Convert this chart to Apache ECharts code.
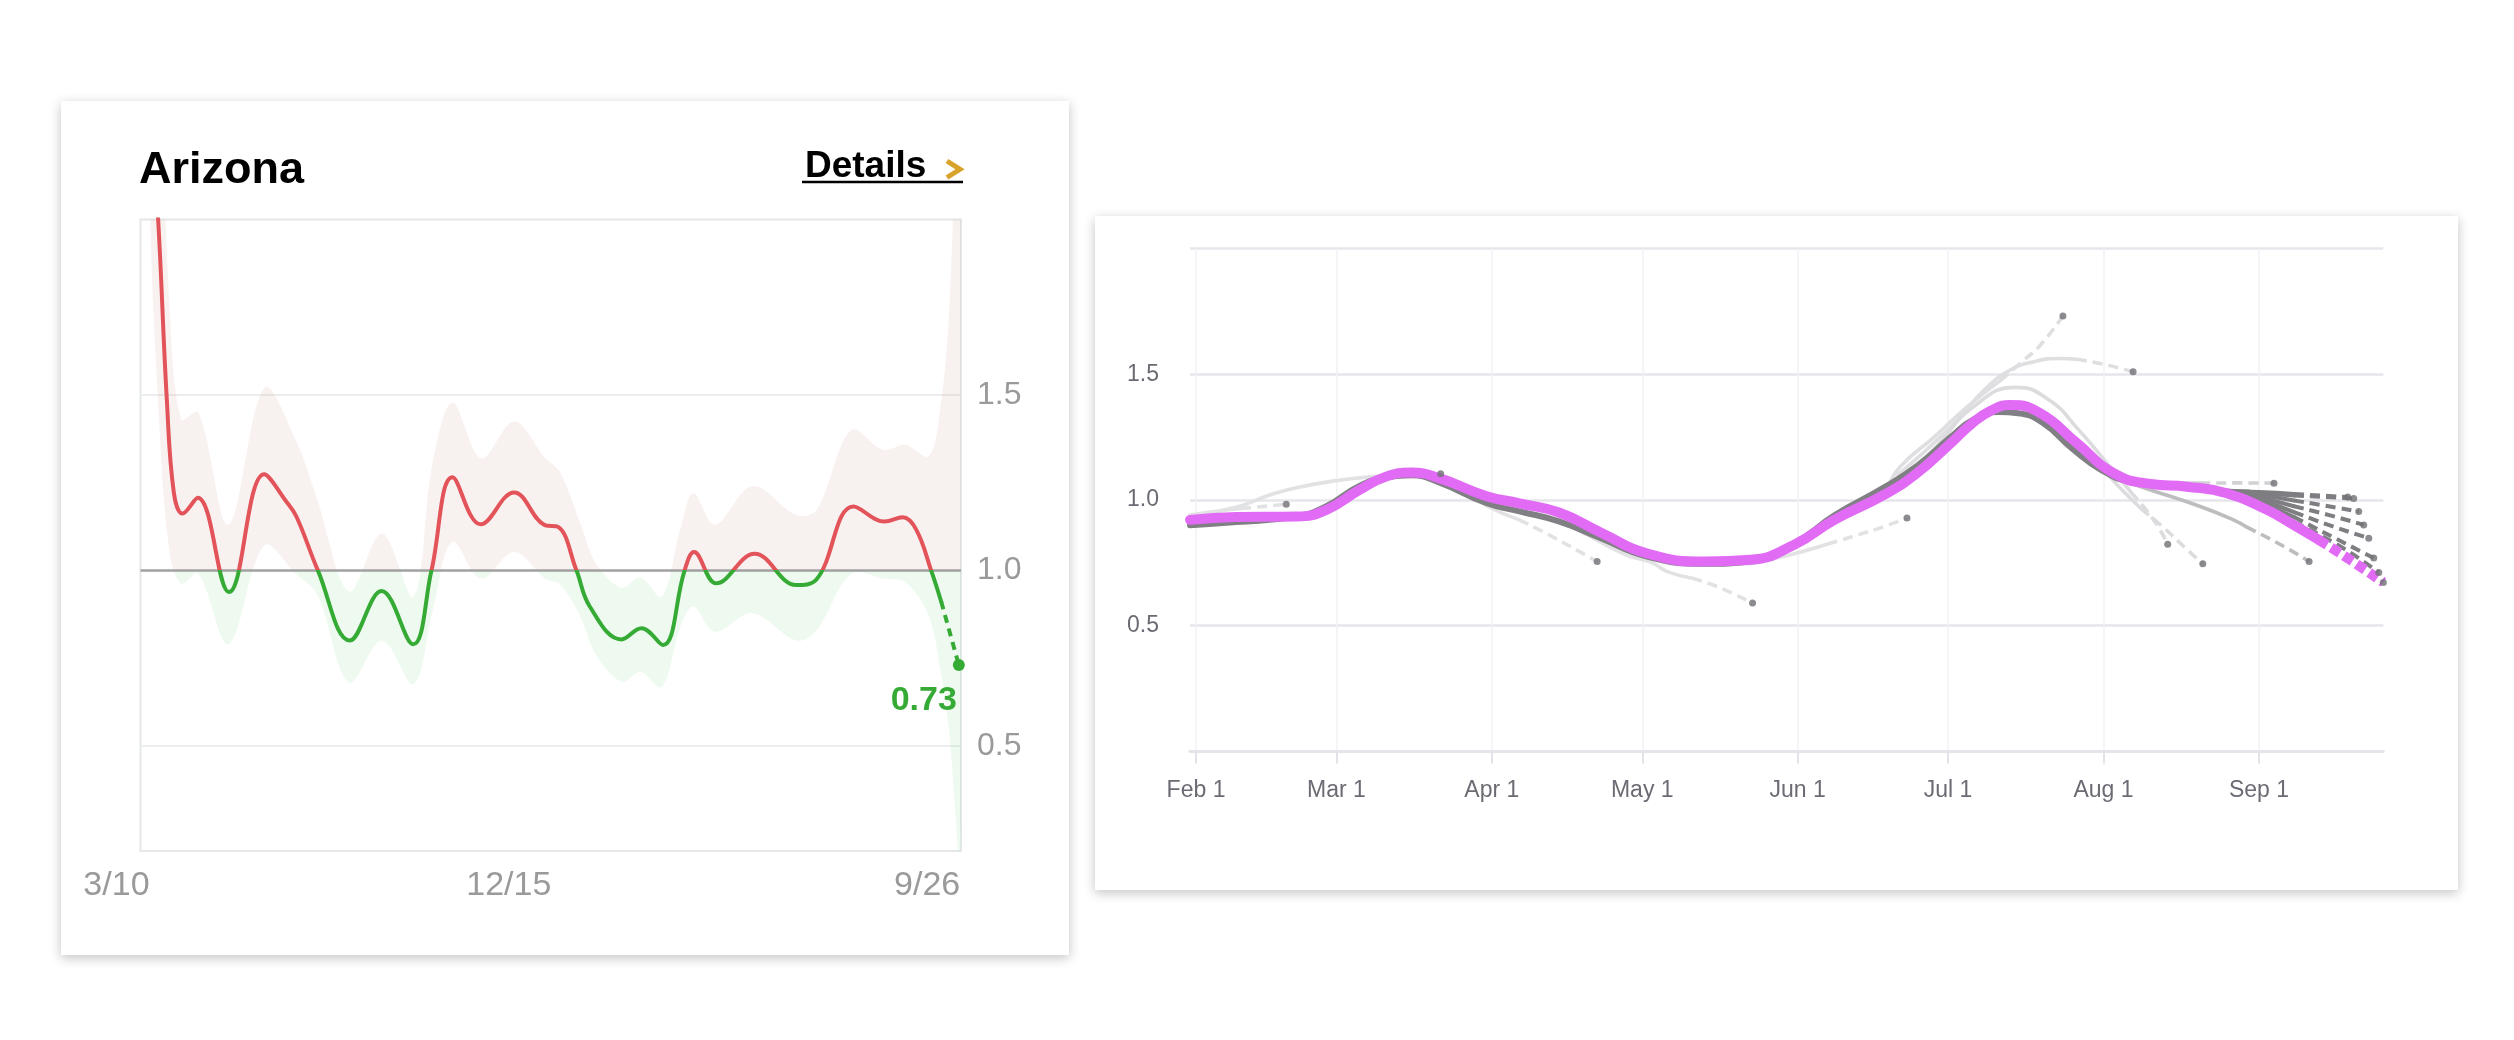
<!DOCTYPE html>
<html>
<head lang="en">
    <meta charset="UTF-8">
    <title>Rt</title>
    <style>
        html, body { margin: 0; padding: 0; background: #fff; }
        .card { position: absolute; background: #fff; box-shadow: 0 3px 11px rgba(0,0,0,0.24); }
        #main { position: absolute; left: 0; top: 0; width: 2514px; height: 1040px; }
    </style>
</head>
<body>
<div class="card" style="left:61px;top:101px;width:1008px;height:854px;"></div>
<div class="card" style="left:1095px;top:216px;width:1363px;height:674px;"></div>
<div id="main"></div>
<script src="https://cdn.jsdelivr.net/npm/echarts@6/dist/echarts.min.js"></script>
<script>
var FONT = '"Liberation Sans", Arial, sans-serif';

// ---- left card: Arizona, days counted from 3/10/2020
var azTickDays = [0, 280, 565];
var azTickLabels = ['3/10', '12/15', '9/26'];
var azLine = [[0, 2.35], [6, 2.0], [12, 1.49], [17, 1.22], [23, 1.162], [33.6, 1.207], [55.4, 0.938],
    [79.9, 1.274], [95.5, 1.195], [102.5, 1.152], [117.3, 1.0], [139.6, 0.80], [161.7, 0.941],
    [183.7, 0.789], [196.5, 1.0], [211.1, 1.265], [230.8, 1.131], [254, 1.222], [275.4, 1.129],
    [284.7, 1.124], [297.5, 1.0], [306.8, 0.897], [328.8, 0.803], [342.8, 0.835], [357.8, 0.787],
    [372.9, 1.0], [379.4, 1.052], [395, 0.963], [421.7, 1.047], [450.7, 0.958], [464.6, 0.973],
    [490.6, 1.182], [512.2, 1.139], [524.9, 1.151], [534.3, 1.116], [544.7, 1.0], [551.7, 0.911]];
var azTail = [[551.7, 0.911], [564, 0.73]];
var bandDays = [0, 7, 14, 22, 34, 55, 80, 102, 117, 139, 162, 184, 197, 211, 231, 254, 276, 286, 300,
    311, 329, 342, 357, 370, 379, 394, 420, 451, 465, 489, 511, 527, 543, 551, 557, 565];
var bandHigh = [3.4, 2.5, 1.75, 1.43, 1.45, 1.13, 1.52, 1.37, 1.2, 0.94, 1.105, 0.924, 1.3, 1.478, 1.319,
    1.424, 1.319, 1.28, 1.136, 1.02, 0.95, 0.98, 0.925, 1.12, 1.22, 1.13, 1.24, 1.157, 1.173, 1.40,
    1.344, 1.358, 1.325, 1.46, 1.72, 2.5];
var bandLow = [2.1, 1.4, 1.05, 0.962, 0.99, 0.79, 1.071, 0.99, 0.93, 0.681, 0.80, 0.676, 0.88, 1.081,
    0.976, 1.052, 0.975, 0.96, 0.87, 0.76, 0.682, 0.711, 0.668, 0.84, 0.897, 0.825, 0.878, 0.80, 0.83,
    0.99, 0.977, 0.965, 0.87, 0.72, 0.55, 0.18];

// ---- right card: days counted from Feb 1 2021
var monthDays = [0, 28, 59, 89, 120, 150, 181, 212];
var monthLabels = ['Feb 1', 'Mar 1', 'Apr 1', 'May 1', 'Jun 1', 'Jul 1', 'Aug 1', 'Sep 1'];
var current = [[-1.2, 0.921], [8, 0.932], [20, 0.934], [26, 0.961], [32.6, 1.04], [37.9, 1.093],
    [42.9, 1.109], [48.5, 1.087], [57.8, 1.016], [64.5, 0.987], [72.4, 0.95], [81, 0.868], [89.7, 0.789],
    [101.7, 0.755], [110.6, 0.762], [119.3, 0.822], [127.3, 0.921], [137.2, 1.02], [143.8, 1.107],
    [150.5, 1.226], [154.5, 1.3], [158.5, 1.355], [162.4, 1.378], [168.4, 1.345], [175.7, 1.226],
    [183.1, 1.106], [190.4, 1.064], [197.6, 1.053], [205.6, 1.027], [213.6, 0.961], [218.9, 0.901],
    [223.9, 0.842], [230.2, 0.762], [236.8, 0.672]];
var currentDashFrom = 223.9;
var bundle = [[-1.2, 0.9], [8, 0.912], [20, 0.935], [26, 0.975], [32.5, 1.055], [38, 1.09], [43, 1.098],
    [48.5, 1.07], [58, 0.987], [64.5, 0.955], [72.5, 0.914], [80.5, 0.85], [90, 0.775], [101.5, 0.746],
    [110.5, 0.755], [119.5, 0.83], [127.5, 0.941], [137.5, 1.053], [144, 1.139], [150.5, 1.25],
    [155, 1.32], [160, 1.35], [164, 1.345], [169, 1.305], [175, 1.2], [180.5, 1.12], [186, 1.075],
    [195, 1.058], [205, 1.035], [210, 1.03]];

// older estimates (light), each ends with a dashed stretch
var L1 = [[-1.2, 0.94], [4, 0.955], [9, 0.966], [18, 0.983]];
var L2 = [[-1.2, 0.935], [8, 0.971], [14.7, 1.02], [20, 1.049], [28, 1.077], [35.3, 1.093], [42, 1.102], [48.8, 1.104]];
var L3 = [[48, 1.08], [53, 1.04], [58, 0.977], [64.5, 0.921], [71, 0.855], [80, 0.755]];
var L4 = [[72, 0.93], [80, 0.84], [86, 0.78], [91, 0.75], [94, 0.715], [99, 0.689], [104, 0.655], [111, 0.59]];
var L5 = [[100, 0.752], [106, 0.745], [111, 0.749], [116, 0.77], [121, 0.795], [126, 0.825], [131, 0.855], [137.2, 0.894], [141.8, 0.928]];
var L6 = [[138, 1.05], [140.5, 1.133], [147.2, 1.25], [153.8, 1.37], [160.5, 1.477], [165.1, 1.556], [168.4, 1.616], [172.9, 1.732]];
var L7 = [[140, 1.1], [150.5, 1.29], [157.2, 1.437], [162.4, 1.517], [167.1, 1.55], [172, 1.563], [175.7, 1.56], [181.7, 1.537], [186.9, 1.51]];
var L8 = [[143, 1.12], [148, 1.22], [155, 1.37], [163.5, 1.448], [170, 1.40], [176, 1.28], [181.7, 1.146], [186.5, 1.03], [191, 0.921], [193.8, 0.824]];
var L9 = [[160, 1.35], [168, 1.33], [175, 1.22], [180, 1.14], [184, 1.055], [188.5, 0.965], [193, 0.89], [197, 0.815], [200.8, 0.746]];
var L10 = [[186, 1.075], [192, 1.066], [200.3, 1.067], [208, 1.068], [215, 1.067]];
var L11 = [[178, 1.16], [183, 1.09], [186, 1.07], [190.4, 1.04], [200.3, 0.974], [207, 0.92], [209.6, 0.892], [217, 0.815], [222, 0.755]];
var lightDashFrom = [9, 42, 64.5, 99, 126, 160.5, 175.7, 186.5, 188.5, 200.3, 209.6];

// latest daily estimates (dark fan)
var F1 = [[205, 1.035], [212, 1.032], [219, 1.024], [224, 1.018], [229.7, 1.012]];
var F2 = [[205, 1.035], [212, 1.028], [219, 1.018], [225, 1.012], [230.9, 1.006]];
var F3 = [[205, 1.035], [212, 1.02], [219, 0.998], [225, 0.978], [231.9, 0.954]];
var F4 = [[205, 1.035], [212, 1.01], [219, 0.975], [226, 0.94], [232.9, 0.901]];
var F5 = [[205, 1.03], [212, 1.0], [219, 0.952], [226, 0.9], [233.9, 0.848]];
var F6 = [[205, 1.03], [212, 0.99], [219, 0.932], [227, 0.85], [234.9, 0.769]];
var F7 = [[205, 1.03], [212, 0.98], [219, 0.912], [228, 0.818], [235.9, 0.712]];
var fanDashFrom = 219;

var RED = '#e3545a', GREEN = '#35ab35';
var BAND_UP = 'rgba(190,130,120,0.11)', BAND_DOWN = 'rgba(60,190,70,0.085)';
var myChart = echarts.init(document.getElementById('main'));

// confidence band: one smooth polygon, pink above 1.0 and green below
function renderBand(params, api) {
    if (params.dataIndex !== 0) return null;
    var up = bandDays.map(function (d, i) { return api.coord([d, bandHigh[i]]); });
    var lo = bandDays.map(function (d, i) { return api.coord([d, bandLow[i]]); }).reverse();
    var top = api.coord([0, 2.0])[1], bottom = api.coord([0, 0.2])[1], mid = api.coord([0, 1])[1];
    var off = (mid - top) / (bottom - top);
    var cs = params.coordSys;
    return {
        type: 'polygon',
        shape: {points: up.concat(lo), smooth: 0.35},
        style: {
            fill: new echarts.graphic.LinearGradient(0, top, 0, bottom, [
                {offset: 0, color: BAND_UP}, {offset: off, color: BAND_UP},
                {offset: off, color: BAND_DOWN}, {offset: 1, color: BAND_DOWN}], true)
        },
        clipPath: {type: 'rect', shape: {x: cs.x, y: cs.y, width: cs.width, height: cs.height}}
    };
}

var series = [
    {
        type: 'custom', data: [0], renderItem: renderBand, z: 1, silent: true,
        markLine: {
            silent: true, symbol: 'none', z: 2, label: {show: false},
            lineStyle: {color: '#a2a2a2', width: 2.5, type: 'solid'},
            data: [{yAxis: 1}]
        }
    },
    {
        type: 'line', data: azLine, smooth: 0.4, symbol: 'none',
        lineStyle: {width: 4, cap: 'round'}, z: 3, silent: true
    },
    {
        type: 'line', data: azTail, symbolSize: 12, showSymbol: true,
        symbol: function (v, p) { return p.dataIndex === azTail.length - 1 ? 'circle' : 'none'; },
        itemStyle: {color: GREEN},
        lineStyle: {color: GREEN, width: 4, type: [8, 6]}, z: 3, silent: true,
        label: {
            show: true, position: 'bottom', align: 'right', offset: [-2, 8],
            formatter: function (p) { return p.dataIndex === azTail.length - 1 ? p.value[1].toFixed(2) : ''; },
            color: GREEN, fontSize: 34, fontWeight: 'bold', fontFamily: FONT
        }
    }
];

function splitAt(pts, from) {
    return [pts.filter(function (p) { return p[0] <= from; }), pts.filter(function (p) { return p[0] >= from; })];
}
var ends = [];
function addEstimate(pts, from, color, width, dash, z) {
    var parts = splitAt(pts, from);
    var base = {type: 'line', xAxisIndex: 1, yAxisIndex: 1, smooth: 0.5, symbol: 'none', silent: true, z: z};
    series.push(Object.assign({}, base, {data: parts[0], lineStyle: {color: color, width: width, cap: 'round'}}));
    series.push(Object.assign({}, base, {data: parts[1], lineStyle: {color: color, width: width, type: dash}}));
    ends.push(pts[pts.length - 1]);
}

var lights = [L1, L2, L3, L4, L5, L6, L7, L8, L9, L10, L11];
var lightColors = ['#e2e2e5', '#e2e2e5', '#e2e2e5', '#e2e2e5', '#e2e2e5', '#dfdfe2', '#dfdfe2', '#dcdcdf', '#dcdcdf', '#d2d2d5', '#bdbdc0'];
lights.forEach(function (pts, i) { addEstimate(pts, lightDashFrom[i], lightColors[i], 3.6, [10, 6], 4); });

series.push({
    type: 'line', xAxisIndex: 1, yAxisIndex: 1, data: bundle, smooth: 0.5, symbol: 'none', silent: true,
    lineStyle: {color: '#808084', width: 6, cap: 'round'}, z: 5
});
[F1, F2, F3, F4, F5, F6, F7].forEach(function (pts) { addEstimate(pts, fanDashFrom, '#7e7e82', 4, [10, 6], 5); });
addEstimate(current, currentDashFrom, '#e26bf5', 10, [10, 5], 6);

series.push({
    type: 'scatter', xAxisIndex: 1, yAxisIndex: 1, data: ends, symbolSize: 7, clip: false,
    itemStyle: {color: '#707075'}, z: 7, silent: true
});

var option = {
    animation: false,
    graphic: [
        {type: 'text', x: 139, y: 171, style: {text: 'Arizona', font: 'bold 45px ' + FONT, fill: '#000', verticalAlign: 'middle'}},
        {type: 'text', x: 805, y: 167, style: {text: 'Details', font: 'bold 37px ' + FONT, fill: '#000', verticalAlign: 'middle'}},
        {type: 'line', shape: {x1: 802, y1: 182, x2: 963, y2: 182}, style: {stroke: '#000', lineWidth: 2.5}},
        {type: 'polyline', shape: {points: [[947, 161], [960, 169.3], [947, 177.5]]}, style: {stroke: '#d9a22b', lineWidth: 5, fill: null}}
    ],
    grid: [
        {left: 140.5, top: 219.5, width: 820.5, height: 631.5, show: true, borderColor: '#e4e8e8', borderWidth: 2},
        {left: 1190, top: 248.6, width: 1193.3, height: 502.8}
    ],
    visualMap: [
        {type: 'piecewise', show: false, seriesIndex: 1, dimension: 1,
            pieces: [{gt: -10, lte: 1, color: GREEN}, {gt: 1, lte: 10, color: RED}]}
    ],
    xAxis: [
        {
            gridIndex: 0, type: 'value', min: -6.3, max: 565.5,
            axisLine: {show: false}, axisTick: {show: false, customValues: azTickDays}, splitLine: {show: false},
            axisLabel: {
                customValues: azTickDays, align: 'right', margin: 18,
                formatter: function (v) { return azTickLabels[azTickDays.indexOf(v)]; },
                fontSize: 34, color: '#9a9a9a', fontFamily: FONT
            }
        },
        {
            gridIndex: 1, type: 'value', min: -1.2, max: 236.8,
            axisLine: {show: true, lineStyle: {color: '#e4e4ea', width: 3}},
            axisTick: {show: true, customValues: monthDays, length: 12, lineStyle: {color: '#e2e2e8', width: 2}},
            splitLine: {show: true, lineStyle: {color: '#f2f2f5', width: 1.5}},
            axisLabel: {
                customValues: monthDays, margin: 28,
                formatter: function (v) { return monthLabels[monthDays.indexOf(v)]; },
                fontSize: 23, color: '#6b6b74', fontFamily: FONT
            }
        }
    ],
    yAxis: [
        {
            gridIndex: 0, type: 'value', position: 'right', min: 0.2, max: 2.0,
            axisLine: {show: false}, axisTick: {show: false, customValues: [0.5, 1, 1.5]},
            splitLine: {show: true, lineStyle: {color: '#eceeee', width: 2}},
            axisLabel: {
                customValues: [0.5, 1, 1.5], margin: 16,
                formatter: function (v) { return v.toFixed(1); },
                fontSize: 32, color: '#9a9a9a', fontFamily: FONT
            }
        },
        {
            gridIndex: 1, type: 'value', min: 0, max: 2, interval: 0.5,
            axisLine: {show: false}, axisTick: {show: false},
            splitLine: {show: true, lineStyle: {color: '#e6e6eb', width: 2.5}},
            axisLabel: {
                margin: 31,
                formatter: function (v) { return (v === 0 || v === 2) ? '' : v.toFixed(1); },
                fontSize: 23, color: '#6b6b74', fontFamily: FONT
            }
        }
    ],
    series: series
};
myChart.setOption(option);
</script>
</body>
</html>
